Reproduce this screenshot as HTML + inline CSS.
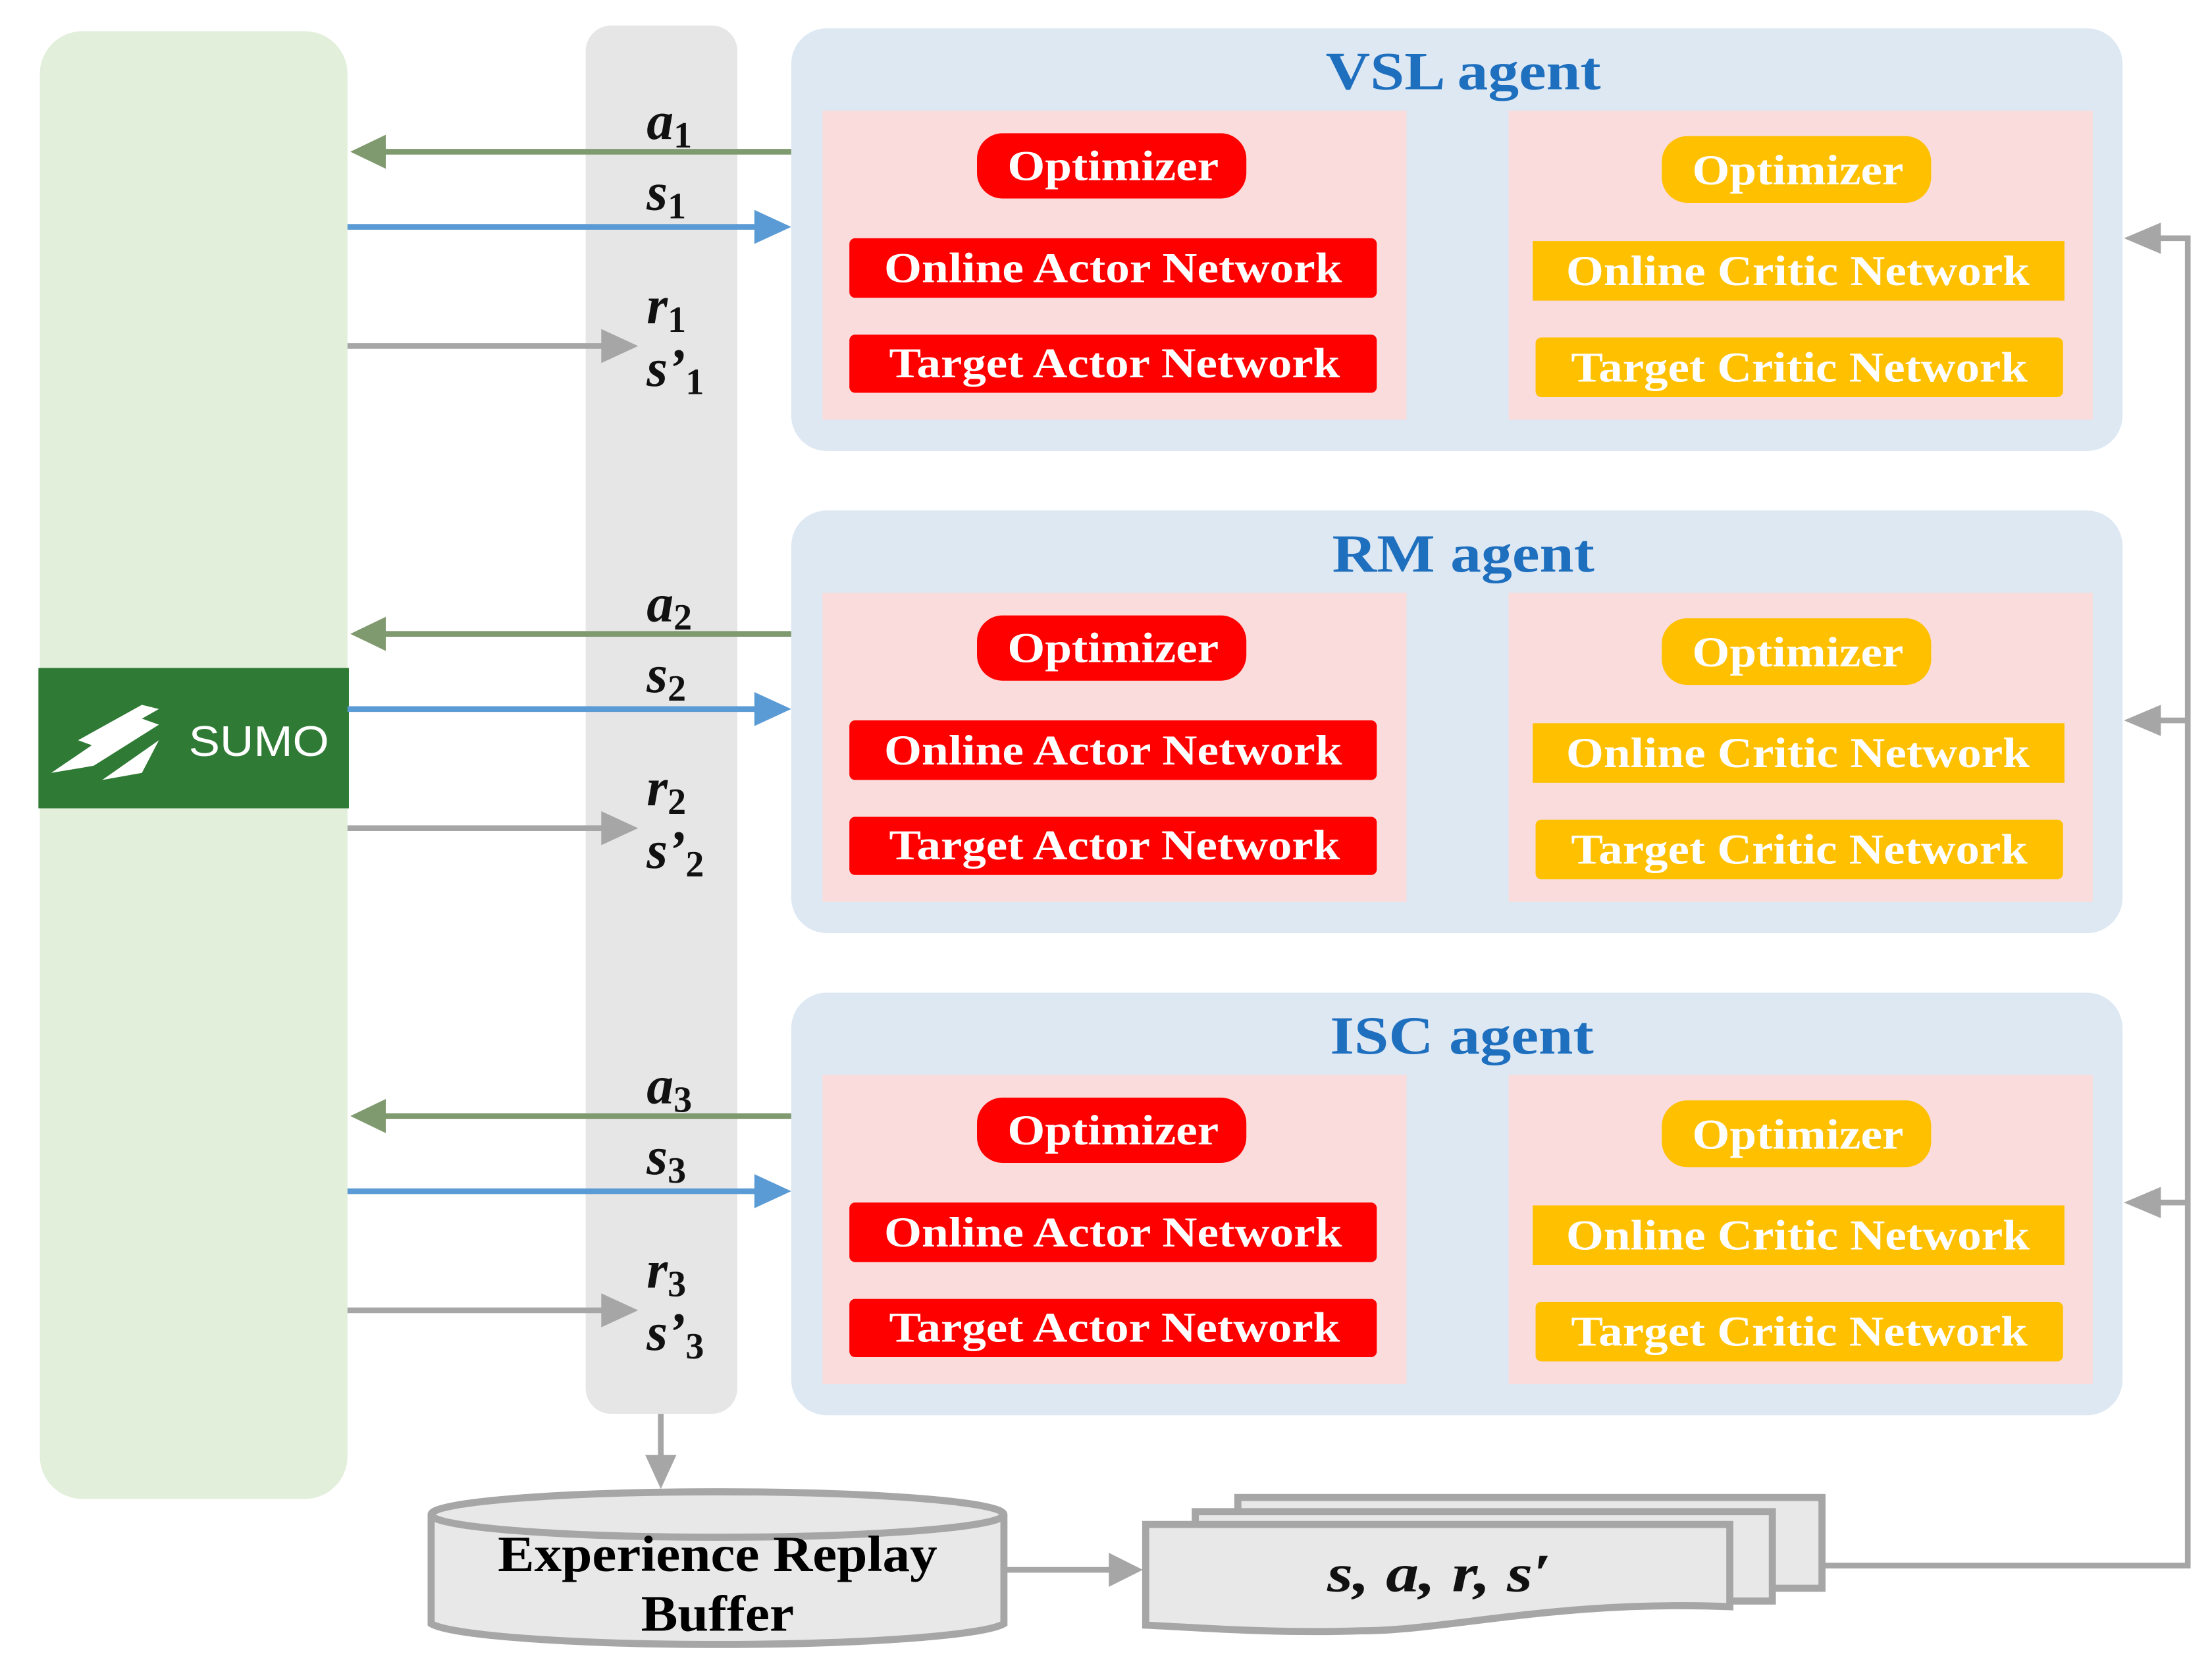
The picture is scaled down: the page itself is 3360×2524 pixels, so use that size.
<!DOCTYPE html>
<html><head><meta charset="utf-8"><style>html,body{margin:0;padding:0;background:#fff}svg{display:block}</style></head><body>
<svg width="3360" height="2524" viewBox="0 0 1560 1172" xmlns="http://www.w3.org/2000/svg" font-family="'Liberation Serif', serif">
<rect x="28" y="22" width="217" height="1035" rx="30" fill="#e2efda"/>
<rect x="413" y="18" width="107" height="979" rx="18" fill="#e6e6e6"/>
<rect x="27" y="471" width="219" height="99" fill="#2f7a35"/>
<g fill="#fff"><path d="M36,545 L95,505 L112,511 L66,540 Z"/><path d="M55,522 L100,497 L112,500 L66,526 Z"/><path d="M72,550 L112,522 L100,545 Z"/></g>
<text x="133" y="533" font-family="'Liberation Sans',sans-serif" font-size="30" fill="#fff" textLength="99" lengthAdjust="spacingAndGlyphs">SUMO</text>
<g font-weight="bold" text-anchor="middle">
<g id="a1">
<rect x="558" y="20" width="939" height="298" rx="25" fill="#dde8f3"/>
<text x="1032" y="63" font-size="38" fill="#1f6fbf" textLength="194" lengthAdjust="spacingAndGlyphs">VSL agent</text>
<rect x="580" y="78" width="412" height="218" fill="#f9dcdb"/><rect x="1064" y="78" width="412" height="218" fill="#f9dcdb"/>
<rect x="689" y="94" width="190" height="46" rx="18" fill="#ff0000"/><text x="785" y="127" font-size="30" fill="#fff" textLength="149" lengthAdjust="spacingAndGlyphs">Optimizer</text>
<rect x="599" y="168" width="372" height="42" rx="4" fill="#ff0000"/><text x="785" y="199" font-size="30" fill="#fff" textLength="323" lengthAdjust="spacingAndGlyphs">Online Actor Network</text>
<rect x="599" y="236" width="372" height="41" rx="4" fill="#ff0000"/><text x="786" y="266" font-size="30" fill="#fff" textLength="318" lengthAdjust="spacingAndGlyphs">Target Actor Network</text>
<rect x="1172" y="96" width="190" height="47" rx="18" fill="#ffc000"/><text x="1268" y="130" font-size="30" fill="#fff" textLength="149" lengthAdjust="spacingAndGlyphs">Optimizer</text>
<rect x="1081" y="170" width="375" height="42" fill="#ffc000"/><text x="1268" y="201" font-size="30" fill="#fff" textLength="327" lengthAdjust="spacingAndGlyphs">Online Critic Network</text>
<rect x="1083" y="238" width="372" height="42" rx="4" fill="#ffc000"/><text x="1269" y="269" font-size="30" fill="#fff" textLength="322" lengthAdjust="spacingAndGlyphs">Target Critic Network</text>
</g>
<g transform="translate(0,340)">
<rect x="558" y="20" width="939" height="298" rx="25" fill="#dde8f3"/>
<text x="1032" y="63" font-size="38" fill="#1f6fbf" textLength="185" lengthAdjust="spacingAndGlyphs">RM agent</text>
<rect x="580" y="78" width="412" height="218" fill="#f9dcdb"/><rect x="1064" y="78" width="412" height="218" fill="#f9dcdb"/>
<rect x="689" y="94" width="190" height="46" rx="18" fill="#ff0000"/><text x="785" y="127" font-size="30" fill="#fff" textLength="149" lengthAdjust="spacingAndGlyphs">Optimizer</text>
<rect x="599" y="168" width="372" height="42" rx="4" fill="#ff0000"/><text x="785" y="199" font-size="30" fill="#fff" textLength="323" lengthAdjust="spacingAndGlyphs">Online Actor Network</text>
<rect x="599" y="236" width="372" height="41" rx="4" fill="#ff0000"/><text x="786" y="266" font-size="30" fill="#fff" textLength="318" lengthAdjust="spacingAndGlyphs">Target Actor Network</text>
<rect x="1172" y="96" width="190" height="47" rx="18" fill="#ffc000"/><text x="1268" y="130" font-size="30" fill="#fff" textLength="149" lengthAdjust="spacingAndGlyphs">Optimizer</text>
<rect x="1081" y="170" width="375" height="42" fill="#ffc000"/><text x="1268" y="201" font-size="30" fill="#fff" textLength="327" lengthAdjust="spacingAndGlyphs">Online Critic Network</text>
<rect x="1083" y="238" width="372" height="42" rx="4" fill="#ffc000"/><text x="1269" y="269" font-size="30" fill="#fff" textLength="322" lengthAdjust="spacingAndGlyphs">Target Critic Network</text>
</g>
<g transform="translate(0,680)">
<rect x="558" y="20" width="939" height="298" rx="25" fill="#dde8f3"/>
<text x="1031" y="63" font-size="38" fill="#1f6fbf" textLength="186" lengthAdjust="spacingAndGlyphs">ISC agent</text>
<rect x="580" y="78" width="412" height="218" fill="#f9dcdb"/><rect x="1064" y="78" width="412" height="218" fill="#f9dcdb"/>
<rect x="689" y="94" width="190" height="46" rx="18" fill="#ff0000"/><text x="785" y="127" font-size="30" fill="#fff" textLength="149" lengthAdjust="spacingAndGlyphs">Optimizer</text>
<rect x="599" y="168" width="372" height="42" rx="4" fill="#ff0000"/><text x="785" y="199" font-size="30" fill="#fff" textLength="323" lengthAdjust="spacingAndGlyphs">Online Actor Network</text>
<rect x="599" y="236" width="372" height="41" rx="4" fill="#ff0000"/><text x="786" y="266" font-size="30" fill="#fff" textLength="318" lengthAdjust="spacingAndGlyphs">Target Actor Network</text>
<rect x="1172" y="96" width="190" height="47" rx="18" fill="#ffc000"/><text x="1268" y="130" font-size="30" fill="#fff" textLength="149" lengthAdjust="spacingAndGlyphs">Optimizer</text>
<rect x="1081" y="170" width="375" height="42" fill="#ffc000"/><text x="1268" y="201" font-size="30" fill="#fff" textLength="327" lengthAdjust="spacingAndGlyphs">Online Critic Network</text>
<rect x="1083" y="238" width="372" height="42" rx="4" fill="#ffc000"/><text x="1269" y="269" font-size="30" fill="#fff" textLength="322" lengthAdjust="spacingAndGlyphs">Target Critic Network</text>
</g>
</g>
<g>
<line x1="558" y1="107" x2="265" y2="107" stroke="#7f9a6f" stroke-width="4"/><path d="M247,107 L272,95 L272,119 Z" fill="#7f9a6f"/>
<line x1="245" y1="160" x2="535" y2="160" stroke="#5b9bd5" stroke-width="4"/><path d="M558,160 L532,148 L532,172 Z" fill="#5b9bd5"/>
<line x1="245" y1="244" x2="428" y2="244" stroke="#a6a6a6" stroke-width="4"/><path d="M450,244 L424,232 L424,256 Z" fill="#a6a6a6"/>
<g font-style="italic" font-weight="bold" font-size="38" fill="#111"><text x="456" y="98">a<tspan font-size="26" dy="6" font-style="normal">1</tspan></text><text x="456" y="148">s<tspan font-size="26" dy="6" font-style="normal">1</tspan></text><text x="456" y="228">r<tspan font-size="26" dy="6" font-style="normal">1</tspan></text><text x="456" y="272">s’<tspan font-size="26" dy="6" font-style="normal">1</tspan></text></g>
</g>
<g transform="translate(0,340)">
<line x1="558" y1="107" x2="265" y2="107" stroke="#7f9a6f" stroke-width="4"/><path d="M247,107 L272,95 L272,119 Z" fill="#7f9a6f"/>
<line x1="245" y1="160" x2="535" y2="160" stroke="#5b9bd5" stroke-width="4"/><path d="M558,160 L532,148 L532,172 Z" fill="#5b9bd5"/>
<line x1="245" y1="244" x2="428" y2="244" stroke="#a6a6a6" stroke-width="4"/><path d="M450,244 L424,232 L424,256 Z" fill="#a6a6a6"/>
<g font-style="italic" font-weight="bold" font-size="38" fill="#111"><text x="456" y="98">a<tspan font-size="26" dy="6" font-style="normal">2</tspan></text><text x="456" y="148">s<tspan font-size="26" dy="6" font-style="normal">2</tspan></text><text x="456" y="228">r<tspan font-size="26" dy="6" font-style="normal">2</tspan></text><text x="456" y="272">s’<tspan font-size="26" dy="6" font-style="normal">2</tspan></text></g>
</g>
<g transform="translate(0,680)">
<line x1="558" y1="107" x2="265" y2="107" stroke="#7f9a6f" stroke-width="4"/><path d="M247,107 L272,95 L272,119 Z" fill="#7f9a6f"/>
<line x1="245" y1="160" x2="535" y2="160" stroke="#5b9bd5" stroke-width="4"/><path d="M558,160 L532,148 L532,172 Z" fill="#5b9bd5"/>
<line x1="245" y1="244" x2="428" y2="244" stroke="#a6a6a6" stroke-width="4"/><path d="M450,244 L424,232 L424,256 Z" fill="#a6a6a6"/>
<g font-style="italic" font-weight="bold" font-size="38" fill="#111"><text x="456" y="98">a<tspan font-size="26" dy="6" font-style="normal">3</tspan></text><text x="456" y="148">s<tspan font-size="26" dy="6" font-style="normal">3</tspan></text><text x="456" y="228">r<tspan font-size="26" dy="6" font-style="normal">3</tspan></text><text x="456" y="272">s’<tspan font-size="26" dy="6" font-style="normal">3</tspan></text></g>
</g>
<g stroke="#a6a6a6" stroke-width="4" fill="none">
<polyline points="1286,1104 1543,1104 1543,168 1520,168"/>
<line x1="1543" y1="508" x2="1520" y2="508"/><line x1="1543" y1="848" x2="1520" y2="848"/>
<line x1="466" y1="997" x2="466" y2="1030"/>
<line x1="710" y1="1107" x2="785" y2="1107"/>
</g>
<g fill="#a6a6a6">
<path d="M1498,168 L1524,157 L1524,179 Z"/><path d="M1498,508 L1524,497 L1524,519 Z"/><path d="M1498,848 L1524,837 L1524,859 Z"/>
<path d="M466,1050 L455,1026 L477,1026 Z"/><path d="M806,1107 L782,1095 L782,1119 Z"/>
</g>
<path d="M304,1068 L304,1145 A204,17 0 0 0 708,1145 L708,1068" fill="#e8e8e8" stroke="#a6a6a6" stroke-width="5"/>
<ellipse cx="506" cy="1068" rx="202" ry="16" fill="#e8e8e8" stroke="#a6a6a6" stroke-width="5"/>
<text x="506" y="1108" font-size="36" font-weight="bold" text-anchor="middle" fill="#000" textLength="310" lengthAdjust="spacingAndGlyphs">Experience Replay</text>
<text x="506" y="1150" font-size="36" font-weight="bold" text-anchor="middle" fill="#000" textLength="108" lengthAdjust="spacingAndGlyphs">Buffer</text>
<rect x="873" y="1056" width="412" height="64" fill="#e8e8e8" stroke="#a6a6a6" stroke-width="5"/>
<rect x="843" y="1066" width="407" height="63" fill="#e8e8e8" stroke="#a6a6a6" stroke-width="5"/>
<path d="M808,1075 L1220,1075 L1220,1133 C1100,1128 1020,1150 960,1150 C900,1152 850,1148 808,1146 Z" fill="#e8e8e8" stroke="#a6a6a6" stroke-width="5"/>
<text x="1015" y="1122" font-size="38" font-style="italic" font-weight="bold" text-anchor="middle" fill="#111" textLength="158" lengthAdjust="spacingAndGlyphs">s, a, r, s′</text>
</svg>
</body></html>
